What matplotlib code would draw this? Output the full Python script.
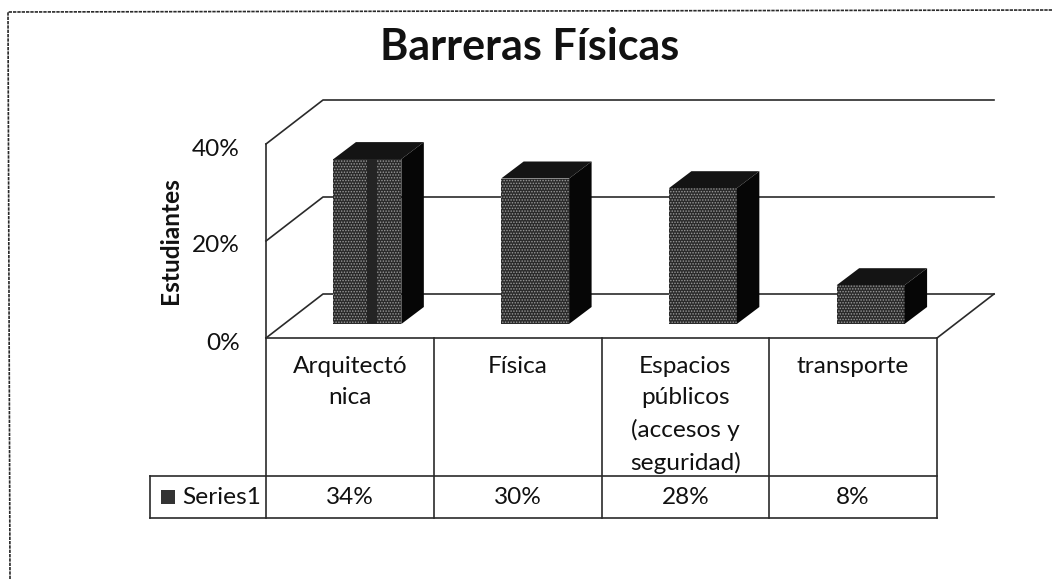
"""Barreras Fisicas - grafico de barras 3D con tabla de datos"""

import matplotlib
matplotlib.use("Agg")
import matplotlib.pyplot as plt

categorias = ["Arquitectó\nnica", "Física", "Espacios\npúblicos\n(accesos y\nseguridad)", "transporte"]
valores = [34, 30, 28, 8]
ticks_y = [0, 20, 40]
etiquetas_y = ["0%", "20%", "40%"]
etiquetas_tabla = ["34%", "30%", "28%", "8%"]
titulo = "Barreras Físicas"
eje_y = "Estudiantes"
serie = "Series1"

LINEA = "#2a2a2a"
TEXTO = "#111111"
W, H = 1052, 579

plt.rcParams["font.family"] = ["Lato", "DejaVu Sans"]
plt.rcParams["hatch.linewidth"] = 0.7


def main():
    fig = plt.figure(figsize=(W / 100, H / 100), dpi=100, facecolor="white")

    # capa en pixeles para marco y textos
    fondo = fig.add_axes([0, 0, 1, 1])
    fondo.set_xlim(0, W)
    fondo.set_ylim(H, 0)
    fondo.axis("off")

    fondo.plot([10, 8, W], [H, 12, 10], color=LINEA, lw=1.2, ls=(0, (2, 0.6)))
    fondo.text(530, 60, titulo, fontsize=31, fontweight="bold", ha="center", va="baseline", color=TEXTO)
    fondo.text(171, 241, eje_y, fontsize=17.6, fontweight="bold", rotation=90, ha="center", va="center", color=TEXTO)

    # plano frontal: x 266-937 px, y 0%=338 px, 40%=144 px
    ax = fig.add_axes([266 / W, 1 - 338 / H, 671 / W, 194 / H])
    ax.set_xlim(0, 4)
    ax.set_ylim(0, 40)
    ax.axis("off")

    por_x = 4 / 671
    por_y = 40 / 194
    fondo_x, fondo_y = 57 * por_x, 44 * por_y      # profundidad total
    barra_x, barra_y = 17.5 * por_x, 14 * por_y    # frente de la barra
    prof_x, prof_y = 22.5 * por_x, 17 * por_y      # grosor de la barra
    ancho = 0.405

    # paredes
    for t in ticks_y:
        ax.plot([0, fondo_x, 4 + fondo_x], [t, t + fondo_y, t + fondo_y],
                color=LINEA, lw=1.2, clip_on=False, zorder=1)
    ax.plot([0, 0], [0, 40], color=LINEA, lw=1.2, clip_on=False, zorder=1)
    ax.plot([4, 4 + fondo_x], [0, fondo_y], color=LINEA, lw=1.2, clip_on=False, zorder=1)

    # barras
    for i, v in enumerate(valores):
        x0 = i + 0.5 + barra_x - ancho / 2
        x1 = x0 + ancho
        y0 = barra_y
        y1 = y0 + v
        ax.bar(x0, v, ancho, bottom=y0, align="edge", facecolor="#2a2a2a", edgecolor="#9a9a9a",
               hatch="......", linewidth=0, zorder=3, clip_on=False)
        ax.fill([x0, x1, x1 + prof_x, x0 + prof_x], [y1, y1, y1 + prof_y, y1 + prof_y],
                color="#141414", lw=0, zorder=3, clip_on=False)
        ax.fill([x1, x1 + prof_x, x1 + prof_x, x1], [y0, y0 + prof_y, y1 + prof_y, y1],
                color="#060606", lw=0, zorder=3, clip_on=False)
        if i == 0:
            # franja oscura del escaneo en la primera barra
            ax.bar(x0 + 0.2, v, 0.06, bottom=y0, align="edge", color="#242424", lw=0, zorder=4, clip_on=False)

    # etiquetas del eje y
    for t, txt in zip(ticks_y, etiquetas_y):
        ax.annotate(txt, (0, t), xytext=(-26, -5), textcoords="offset pixels", ha="right", va="center",
                    fontsize=17.6, color=TEXTO, annotation_clip=False)

    # tabla de datos: fila de la serie entre 476 y 518 px
    fila_arriba = -(476 - 338) * por_y
    fila_abajo = -(518 - 338) * por_y
    izq = -(266 - 150) * por_x
    for k in range(5):
        ax.plot([k, k], [0, fila_abajo], color=LINEA, lw=1.2, clip_on=False)
    ax.plot([0, 4], [0, 0], color=LINEA, lw=1.2, clip_on=False, zorder=2)
    ax.plot([izq, 4], [fila_arriba, fila_arriba], color=LINEA, lw=1.2, clip_on=False)
    ax.plot([izq, 4], [fila_abajo, fila_abajo], color=LINEA, lw=1.2, clip_on=False)
    ax.plot([izq, izq], [fila_arriba, fila_abajo], color=LINEA, lw=1.2, clip_on=False)

    medio = (fila_arriba + fila_abajo) / 2
    for i, c in enumerate(categorias):
        ax.annotate(c, (i + 0.5, 0), xytext=(0, -18), textcoords="offset pixels", ha="center", va="top",
                    fontsize=17.6, linespacing=1.6, color=TEXTO, annotation_clip=False)
        ax.annotate(etiquetas_tabla[i], (i + 0.5, medio), xytext=(0, -1), textcoords="offset pixels",
                    ha="center", va="center", fontsize=17.6, color=TEXTO, annotation_clip=False)

    ax.plot([izq + 17.5 * por_x], [medio], marker="s", ms=10.5, mew=0, color="#333333", clip_on=False)
    ax.annotate(serie, (izq + 32 * por_x, medio), xytext=(0, -1), textcoords="offset pixels", ha="left",
                va="center", fontsize=17.6, color=TEXTO, annotation_clip=False)

    fig.savefig("out.png", dpi=100)


if __name__ == "__main__":
    main()
